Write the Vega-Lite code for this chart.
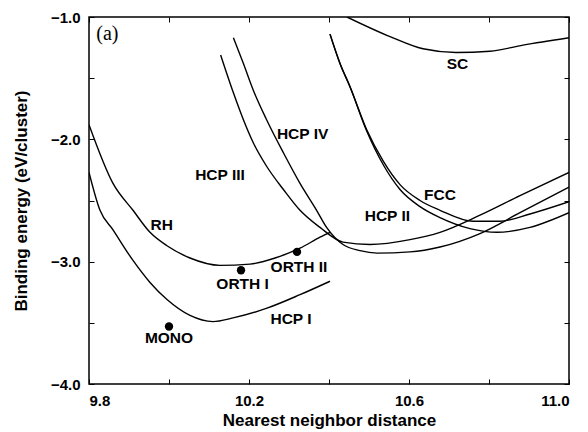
{
  "$schema": "https://vega.github.io/schema/vega-lite/v6.json",
  "width": 480,
  "height": 367,
  "autosize": {"type": "none"},
  "padding": {"left": 89, "top": 17, "right": 19, "bottom": 48},
  "background": "white",
  "config": {
    "view": {"stroke": "black", "strokeWidth": 1.5},
    "axis": {
      "domain": false,
      "grid": false,
      "tickColor": "black",
      "tickWidth": 1,
      "tickSize": -5,
      "labelFont": "Liberation Sans",
      "labelFontWeight": "bold",
      "labelFontSize": 15,
      "labelColor": "black",
      "titleFont": "Liberation Sans",
      "titleFontWeight": "bold",
      "titleFontSize": 17,
      "titleColor": "black"
    }
  },
  "datasets": {
    "curves": [
      {"curve": "RH", "x": 9.8, "y": -1.88},
      {"curve": "RH", "x": 9.86, "y": -2.36},
      {"curve": "RH", "x": 9.91, "y": -2.58},
      {"curve": "RH", "x": 9.9525, "y": -2.76},
      {"curve": "RH", "x": 9.995, "y": -2.87},
      {"curve": "RH", "x": 10.0525, "y": -2.97},
      {"curve": "RH", "x": 10.1275, "y": -3.03},
      {"curve": "RH", "x": 10.2025, "y": -3.02},
      {"curve": "RH", "x": 10.265, "y": -2.97},
      {"curve": "RH", "x": 10.3275, "y": -2.89},
      {"curve": "RH", "x": 10.3775, "y": -2.8},
      {"curve": "RH", "x": 10.4025, "y": -2.76},
      {"curve": "HCP I", "x": 9.8, "y": -2.27},
      {"curve": "HCP I", "x": 9.8275, "y": -2.58},
      {"curve": "HCP I", "x": 9.86, "y": -2.74},
      {"curve": "HCP I", "x": 9.91, "y": -2.99},
      {"curve": "HCP I", "x": 9.9525, "y": -3.17},
      {"curve": "HCP I", "x": 9.995, "y": -3.31},
      {"curve": "HCP I", "x": 10.0525, "y": -3.44},
      {"curve": "HCP I", "x": 10.11, "y": -3.49},
      {"curve": "HCP I", "x": 10.16, "y": -3.46},
      {"curve": "HCP I", "x": 10.245, "y": -3.38},
      {"curve": "HCP I", "x": 10.3275, "y": -3.27},
      {"curve": "HCP I", "x": 10.4025, "y": -3.16},
      {"curve": "HCP III", "x": 10.129, "y": -1.31},
      {"curve": "HCP III", "x": 10.161, "y": -1.62},
      {"curve": "HCP III", "x": 10.186, "y": -1.84},
      {"curve": "HCP III", "x": 10.211, "y": -2.03},
      {"curve": "HCP III", "x": 10.244, "y": -2.22},
      {"curve": "HCP III", "x": 10.286, "y": -2.41},
      {"curve": "HCP III", "x": 10.3275, "y": -2.58},
      {"curve": "HCP III", "x": 10.3775, "y": -2.72},
      {"curve": "HCP III", "x": 10.435, "y": -2.84},
      {"curve": "HCP III", "x": 10.5025, "y": -2.86},
      {"curve": "HCP III", "x": 10.6025, "y": -2.82},
      {"curve": "HCP III", "x": 10.6775, "y": -2.76},
      {"curve": "HCP III", "x": 10.7775, "y": -2.62},
      {"curve": "HCP III", "x": 10.8775, "y": -2.46},
      {"curve": "HCP III", "x": 11.0, "y": -2.27},
      {"curve": "HCP IV", "x": 10.161, "y": -1.17},
      {"curve": "HCP IV", "x": 10.186, "y": -1.38},
      {"curve": "HCP IV", "x": 10.211, "y": -1.6},
      {"curve": "HCP IV", "x": 10.244, "y": -1.84},
      {"curve": "HCP IV", "x": 10.286, "y": -2.11},
      {"curve": "HCP IV", "x": 10.3275, "y": -2.36},
      {"curve": "HCP IV", "x": 10.369, "y": -2.58},
      {"curve": "HCP IV", "x": 10.394, "y": -2.72},
      {"curve": "HCP IV", "x": 10.435, "y": -2.86},
      {"curve": "HCP IV", "x": 10.4775, "y": -2.91},
      {"curve": "HCP IV", "x": 10.52, "y": -2.93},
      {"curve": "HCP IV", "x": 10.6025, "y": -2.92},
      {"curve": "HCP IV", "x": 10.6775, "y": -2.88},
      {"curve": "HCP IV", "x": 10.7775, "y": -2.77},
      {"curve": "HCP IV", "x": 10.8775, "y": -2.6},
      {"curve": "HCP IV", "x": 11.0, "y": -2.39},
      {"curve": "FCC", "x": 10.4025, "y": -1.14},
      {"curve": "FCC", "x": 10.4275, "y": -1.38},
      {"curve": "FCC", "x": 10.4525, "y": -1.57},
      {"curve": "FCC", "x": 10.494, "y": -1.92},
      {"curve": "FCC", "x": 10.536, "y": -2.18},
      {"curve": "FCC", "x": 10.5775, "y": -2.37},
      {"curve": "FCC", "x": 10.6275, "y": -2.5},
      {"curve": "FCC", "x": 10.6775, "y": -2.58},
      {"curve": "FCC", "x": 10.76, "y": -2.67},
      {"curve": "FCC", "x": 10.8275, "y": -2.67},
      {"curve": "FCC", "x": 10.9025, "y": -2.61},
      {"curve": "FCC", "x": 11.0, "y": -2.51},
      {"curve": "HCP II", "x": 10.4025, "y": -1.14},
      {"curve": "HCP II", "x": 10.4275, "y": -1.38},
      {"curve": "HCP II", "x": 10.4525, "y": -1.57},
      {"curve": "HCP II", "x": 10.494, "y": -1.93},
      {"curve": "HCP II", "x": 10.536, "y": -2.21},
      {"curve": "HCP II", "x": 10.5775, "y": -2.41},
      {"curve": "HCP II", "x": 10.6275, "y": -2.55},
      {"curve": "HCP II", "x": 10.6775, "y": -2.64},
      {"curve": "HCP II", "x": 10.7525, "y": -2.73},
      {"curve": "HCP II", "x": 10.82, "y": -2.76},
      {"curve": "HCP II", "x": 10.9025, "y": -2.72},
      {"curve": "HCP II", "x": 11.0, "y": -2.6},
      {"curve": "SC", "x": 10.445, "y": -1.0},
      {"curve": "SC", "x": 10.5525, "y": -1.16},
      {"curve": "SC", "x": 10.635, "y": -1.26},
      {"curve": "SC", "x": 10.7175, "y": -1.29},
      {"curve": "SC", "x": 10.8025, "y": -1.28},
      {"curve": "SC", "x": 10.885, "y": -1.23},
      {"curve": "SC", "x": 11.0, "y": -1.17}
    ],
    "dots": [
      {"name": "MONO", "x": 10.0, "y": -3.53},
      {"name": "ORTH I", "x": 10.18, "y": -3.07},
      {"name": "ORTH II", "x": 10.32, "y": -2.92}
    ],
    "labels": [
      {"text": "SC", "x": 10.721, "y": -1.384},
      {"text": "HCP IV", "x": 10.334, "y": -1.957},
      {"text": "HCP III", "x": 10.1275, "y": -2.29},
      {"text": "FCC", "x": 10.6775, "y": -2.455},
      {"text": "HCP II", "x": 10.546, "y": -2.627},
      {"text": "RH", "x": 9.982, "y": -2.7},
      {"text": "ORTH II", "x": 10.325, "y": -3.04},
      {"text": "ORTH I", "x": 10.184, "y": -3.18},
      {"text": "HCP I", "x": 10.305, "y": -3.47},
      {"text": "MONO", "x": 10.0, "y": -3.625}
    ]
  },
  "layer": [
    {
      "data": {"name": "curves"},
      "mark": {"type": "line", "color": "black", "strokeWidth": 1.4, "interpolate": "monotone", "clip": true},
      "encoding": {
        "x": {
          "field": "x", "type": "quantitative",
          "scale": {"domain": [9.8, 11.0], "nice": false, "zero": false},
          "axis": {
            "orient": "bottom",
            "title": "Nearest neighbor distance",
            "values": [9.8, 10.0, 10.2, 10.4, 10.6, 10.8, 11.0],
            "format": ".1f",
            "labelExpr": "round(datum.value*10) % 4 == 2 ? datum.label : ''",
            "labelPadding": 14,
            "titlePadding": 4
          }
        },
        "y": {
          "field": "y", "type": "quantitative",
          "scale": {"domain": [-4.0, -1.0], "nice": false, "zero": false},
          "axis": {
            "orient": "left",
            "title": "Binding energy (eV/cluster)",
            "values": [-4.0, -3.5, -3.0, -2.5, -2.0, -1.5, -1.0],
            "format": ".1f",
            "labelExpr": "abs(datum.value % 1) < 0.01 ? datum.label : ''",
            "labelPadding": 14,
            "titlePadding": 20
          }
        },
        "detail": {"field": "curve"}
      }
    },
    {
      "data": {"name": "dots"},
      "mark": {"type": "circle", "color": "black", "opacity": 1, "size": 70},
      "encoding": {
        "x": {
          "field": "x", "type": "quantitative",
          "axis": {"orient": "top", "title": null, "labels": false, "values": [9.8, 10.0, 10.2, 10.4, 10.6, 10.8, 11.0]}
        },
        "y": {
          "field": "y", "type": "quantitative",
          "axis": {"orient": "right", "title": null, "labels": false, "values": [-4.0, -3.5, -3.0, -2.5, -2.0, -1.5, -1.0]}
        }
      }
    },
    {
      "data": {"name": "labels"},
      "mark": {"type": "text", "font": "Liberation Sans", "fontWeight": "bold", "fontSize": 15.5, "color": "black", "align": "center", "baseline": "middle"},
      "encoding": {
        "x": {"field": "x", "type": "quantitative", "axis": null},
        "y": {"field": "y", "type": "quantitative", "axis": null},
        "text": {"field": "text"}
      }
    },
    {
      "data": {"values": [{"t": "(a)", "x": 9.846, "y": -1.139}]},
      "mark": {"type": "text", "font": "Liberation Serif", "fontSize": 20, "color": "black", "align": "center", "baseline": "middle"},
      "encoding": {
        "x": {"field": "x", "type": "quantitative", "axis": null},
        "y": {"field": "y", "type": "quantitative", "axis": null},
        "text": {"field": "t"}
      }
    }
  ],
  "resolve": {"axis": {"x": "independent", "y": "independent"}}
}
